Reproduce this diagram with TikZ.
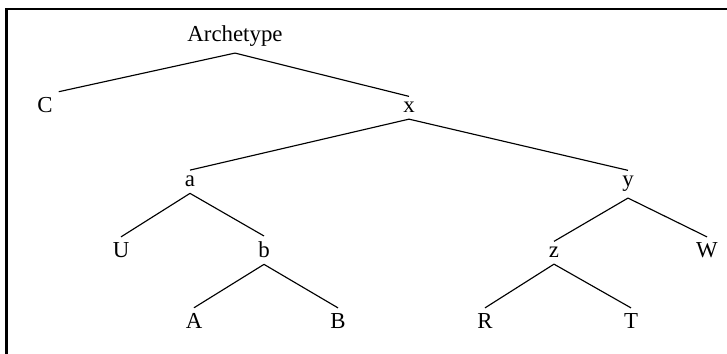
\documentclass[tikz,border=0pt]{standalone}
\usepackage{fontspec}
\setmainfont{Liberation Serif}
\usetikzlibrary{positioning,calc}

\begin{document}
\begin{tikzpicture}[font=\fontsize{13pt}{15pt}\selectfont,
    witness/.style={anchor=base, inner sep=3.3pt},
    branch/.style={draw, line width=0.65pt}]

  \useasboundingbox (0,0) rectangle (14.54,7.08);
  \draw[line width=1.4pt] (0.13,0) |- (14.6,6.90);

  % Nodes of the stemma
  \node[witness] (arch) at (4.70,6.24) {Archetype};
  \node[witness] (C) at (0.90,4.82) {C};
  \node[witness] (x) at (8.18,4.82) {x};
  \node[witness] (a) at (3.80,3.34) {a};
  \node[witness] (y) at (12.56,3.34) {y};
  \node[witness] (U) at (2.42,1.92) {U};
  \node[witness] (b) at (5.28,1.92) {b};
  \node[witness] (z) at (11.08,1.92) {z};
  \node[witness] (W) at (14.14,1.92) {W};
  \node[witness] (A) at (3.88,0.50) {A};
  \node[witness] (B) at (6.76,0.50) {B};
  \node[witness] (R) at (9.70,0.50) {R};
  \node[witness] (T) at (12.62,0.50) {T};

  % Branches of the stemma
  \path[branch]
    (arch.south) edge (C.north east)
    (arch.south) edge (x.north)
    (x.south) edge (a.north)
    (x.south) edge (y.north)
    (a.south) edge (U.north)
    (a.south) edge (b.north)
    (b.south) edge (A.north)
    (b.south) edge (B.north)
    (y.south) edge (z.north)
    (y.south) edge (W.north)
    (z.south) edge (R.north)
    (z.south) edge (T.north);

\end{tikzpicture}
\end{document}
